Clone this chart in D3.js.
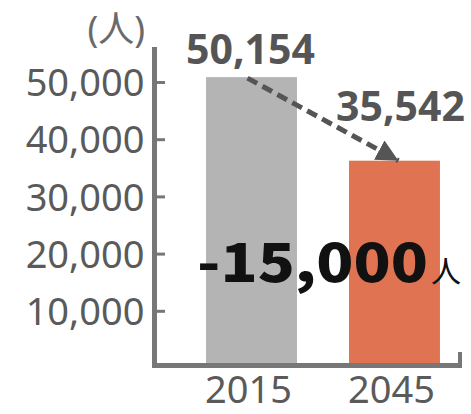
<!DOCTYPE html>
<html>
<head>
<meta charset="utf-8">
<script src="https://cdn.jsdelivr.net/npm/d3@7"></script>
<style>
  html, body { margin: 0; padding: 0; background: #fff; }
  svg { display: block; }
</style>
</head>
<body>
<svg id="chart" width="471" height="414"></svg>
<script>
// ---- data ----
const years = ["2015", "2045"];
const population = [50154, 35542];
const valueLabels = ["50,154", "35,542"];
const tickValues = [10000, 20000, 30000, 40000, 50000];
const unitLabel = "(人)";
const changeNumber = "-15,000";
const changeUnit = "人";
const barColors = ["#b4b4b4", "#df7352"];

// ---- layout ----
const axisX = 154.5, baseY = 365.5;
const svg = d3.select("#chart");

const y = d3.scaleLinear().domain([0, 50000]).range([364, 78]);
const x = d3.scaleBand().domain(years).range([155, 491])
  .paddingInner(0.364).paddingOuter(0.357);

const axisColor = "#777777";
const textGrey = "#5a5a5a";
const latin = "'Noto Sans', 'Noto Sans CJK JP', sans-serif";
const cjk = "'Noto Sans CJK JP', 'Noto Sans', sans-serif";

// bars
svg.append("g").selectAll("rect")
  .data(years)
  .join("rect")
  .attr("x", d => x(d))
  .attr("width", x.bandwidth())
  .attr("y", (d, i) => y(population[i]))
  .attr("height", (d, i) => y(0) - y(population[i]))
  .attr("fill", (d, i) => barColors[i]);

// y axis (ticks inward, labels outside)
const yAxis = d3.axisLeft(y).tickValues(tickValues)
  .tickSize(-10.5).tickPadding(10)
  .tickFormat(d3.format(","));
const gy = svg.append("g")
  .attr("transform", `translate(${axisX},4)`)
  .call(yAxis);
gy.select(".domain").remove();
gy.selectAll(".tick line").attr("stroke", axisColor).attr("stroke-width", 3);
gy.selectAll(".tick text")
  .attr("fill", textGrey)
  .style("font-family", latin)
  .style("font-size", "38px")
  .attr("dy", "0.36em");

// axis lines
svg.append("line").attr("x1", axisX).attr("x2", axisX)
  .attr("y1", 47).attr("y2", baseY + 2.5)
  .attr("stroke", axisColor).attr("stroke-width", 5);
svg.append("line").attr("x1", axisX - 2.5).attr("x2", 462)
  .attr("y1", baseY).attr("y2", baseY)
  .attr("stroke", axisColor).attr("stroke-width", 5);
svg.append("line").attr("x1", 460).attr("x2", 460)
  .attr("y1", 352).attr("y2", baseY)
  .attr("stroke", axisColor).attr("stroke-width", 4);

// x labels
svg.append("g").selectAll("text")
  .data(years)
  .join("text")
  .attr("x", d => x(d) + x.bandwidth() / 2 - 3)
  .attr("y", 403)
  .attr("text-anchor", "middle")
  .attr("fill", textGrey)
  .style("font-family", latin)
  .style("font-size", "38px")
  .text(d => d);

// unit label
svg.append("text")
  .attr("x", 145).attr("y", 42)
  .attr("text-anchor", "end")
  .attr("fill", "#6a6a6a")
  .style("font-family", latin)
  .style("font-size", "36px")
  .text(unitLabel);

// value labels
const labelDx = [-1, 6];
const labelDy = [-13, -40];
svg.append("g").selectAll("text")
  .data(years)
  .join("text")
  .attr("x", (d, i) => x(d) + x.bandwidth() / 2 + labelDx[i])
  .attr("y", (d, i) => y(population[i]) + labelDy[i])
  .attr("text-anchor", "middle")
  .attr("fill", "#555555")
  .style("font-family", latin)
  .style("font-weight", "700")
  .style("font-size", "41px")
  .text((d, i) => valueLabels[i]);

// dashed arrow
svg.append("defs").append("marker")
  .attr("id", "ah")
  .attr("markerUnits", "userSpaceOnUse")
  .attr("markerWidth", 22).attr("markerHeight", 22)
  .attr("viewBox", "0 0 20 20")
  .attr("refX", 20).attr("refY", 10)
  .attr("orient", "auto")
  .append("path").attr("d", "M0,0 L20,10 L0,20 Z").attr("fill", "#555555");

const x0 = x(years[0]) + x.bandwidth() / 2 - 4;
const y0 = y(population[0]) + 1;
const x1 = x(years[1]) + x.bandwidth() / 2 + 4;
const y1 = y(population[1]);
svg.append("line")
  .attr("x1", x0).attr("y1", y0)
  .attr("x2", x1).attr("y2", y1)
  .attr("stroke", "#555555").attr("stroke-width", 5)
  .attr("stroke-dasharray", "11,6")
  .attr("marker-end", "url(#ah)");

// change annotation
const ann = svg.append("text")
  .attr("x", 197).attr("y", 282)
  .attr("fill", "#111111")
  .style("font-family", cjk);
ann.append("tspan")
  .style("font-weight", "900")
  .style("font-size", "53px")
  .attr("textLength", 231)
  .attr("lengthAdjust", "spacingAndGlyphs")
  .text(changeNumber);
ann.append("tspan")
  .attr("dx", 3)
  .style("font-weight", "400")
  .style("font-size", "30px")
  .text(changeUnit);
</script>
</body>
</html>
